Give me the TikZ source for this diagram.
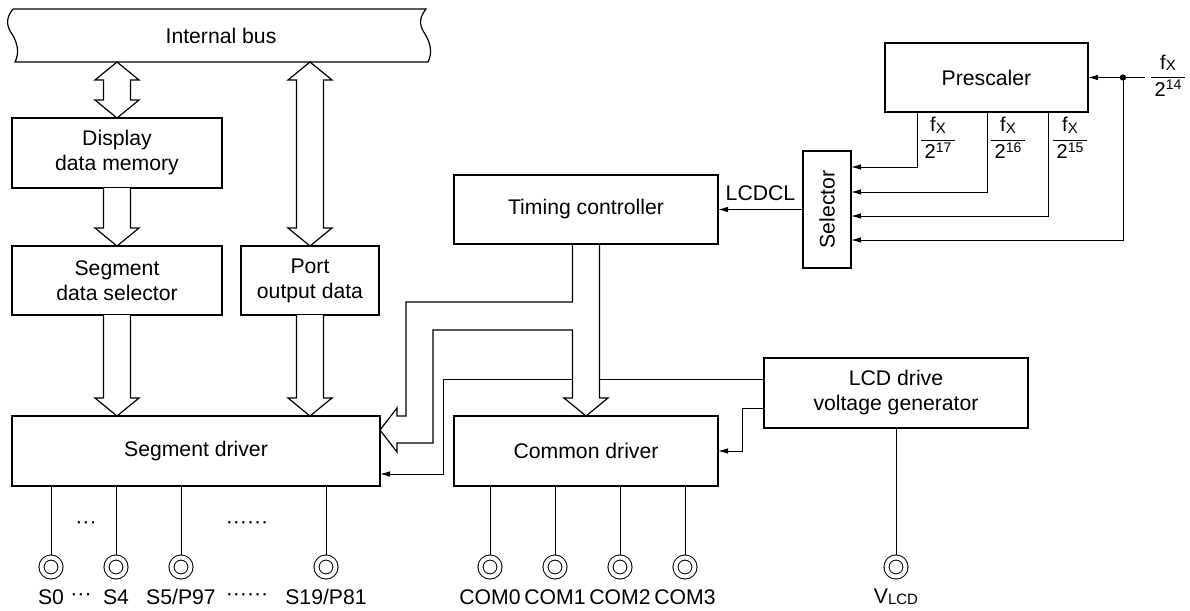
\documentclass[tikz,border=0pt]{standalone}
\usepackage{fontspec}
\setmainfont{Liberation Sans}
\usetikzlibrary{arrows.meta,positioning,calc}

% fraction label f_X / 2^n
\newcommand{\fxover}[1]{{\fontsize{10}{13}\selectfont\begin{tabular}{@{\,}c@{\,}}f\raisebox{-0.6pt}{\fontsize{7.5}{8}\selectfont X}\\\hline 2\raisebox{3.2pt}{\fontsize{7}{8}\selectfont #1}\end{tabular}}}
% hollow bus arrows
\newcommand{\fatdown}[2]{\draw[fat] ($(#1)+(-13.5,0)$) -- ($(#2)+(-13.5,-18)$) -- ($(#2)+(-22,-18)$) -- (#2) -- ($(#2)+(22,-18)$) -- ($(#2)+(13.5,-18)$) -- ($(#1)+(13.5,0)$);}
\newcommand{\fatboth}[2]{\draw[fat] (#1) -- ($(#1)+(22,18)$) -- ($(#1)+(13.5,18)$) -- ($(#2)+(13.5,-18)$) -- ($(#2)+(22,-18)$) -- (#2) -- ($(#2)+(-22,-18)$) -- ($(#2)+(-13.5,-18)$) -- ($(#1)+(-13.5,18)$) -- ($(#1)+(-22,18)$) -- cycle;}

\begin{document}
\begin{tikzpicture}[x=0.5pt, y=-0.5pt,
  font=\fontsize{10.6}{12.5}\selectfont,
  box/.style={rectangle, draw, line width=1pt, outer sep=0pt, align=center},
  wire/.style={line width=0.5pt},
  arr/.style={-{Latex[length=5pt, width=2.8pt]}},
  fat/.style={line width=0.6pt, fill=white},
  term/.style={circle, draw, line width=0.5pt, double, double distance=2pt, minimum size=9.5pt, inner sep=0pt, outer sep=1.25pt}
]
  \useasboundingbox (0,0) rectangle (1190,611);

  % Internal bus
  \node[minimum width=206.5pt, minimum height=26.5pt, inner sep=0pt, outer sep=0pt] (bus) at (221,35.5) {Internal bus};
  \draw[line width=0.6pt] (13,9) -- (426,9) .. controls (417,20) and (421,28) .. (425,34) .. controls (430,42) and (433,52) .. (428,62)
    -- (15,62) .. controls (20,52) and (17,42) .. (12,34) .. controls (8,28) and (4,20) .. (13,9);

  % Blocks
  \node[box, minimum width=105pt, minimum height=35pt] (disp) at (117,153) {Display\\data memory};
  \node[box, minimum width=105pt, minimum height=34.5pt] (segsel) at (117,280.5) {Segment\\data selector};
  \node[box, minimum width=69pt, minimum height=34.5pt] (port) at (310,280.5) {Port\\output data};
  \node[box, minimum width=184pt, minimum height=35pt] (segdrv) at (196,451) {Segment driver};
  \node[box, minimum width=132pt, minimum height=35pt] (comdrv) at (586,451) {Common driver};
  \node[box, minimum width=132pt, minimum height=34.5pt] (timing) at (586,209.5) {Timing controller};
  \node[box, minimum width=24pt, minimum height=58.5pt] (sel) at (827,209.5) {\rotatebox{90}{Selector}};
  \node[box, minimum width=101.5pt, minimum height=34.5pt] (presc) at (986.5,77.5) {Prescaler};
  \node[box, minimum width=132pt, minimum height=35pt] (lcdgen) at (896,393) {LCD drive\\voltage generator};

  % Clock input and prescaler taps
  \coordinate (fin) at (1145,77.5);
  \coordinate (split) at (1123,77.5);
  \draw[wire, arr] (fin) -- (presc.east);
  \fill (split) circle (1.6pt);
  \node (f14) at (1168,77.5) {\fxover{14}};
  \draw[wire, arr] ($(presc.south west)+(32,0)$) |- ($(sel.north east)+(0,16)$);
  \draw[wire, arr] ($(presc.south west)+(102,0)$) |- ($(sel.north east)+(0,41)$);
  \draw[wire, arr] ($(presc.south west)+(163,0)$) |- ($(sel.north east)+(0,65)$);
  \draw[wire, arr] (split) |- ($(sel.north east)+(0,89)$);
  \node (f17) at (938,140) {\fxover{17}};
  \node (f16) at (1008,140) {\fxover{16}};
  \node (f15) at (1070,140) {\fxover{15}};
  \draw[wire, arr] (sel.west) -- (timing.east) node[midway, above=1pt] (lcdcl) {LCDCL};

  % LCD drive voltage lines
  \draw[wire, arr] ($(lcdgen.north west)+(0,21)$) -| ($(segdrv.south east)+(63,-12)$) -- ($(segdrv.south east)+(0,-12)$);
  \draw[wire, arr] ($(lcdgen.north west)+(0,50)$) -| ($(comdrv.east)+(24,0)$) -- (comdrv.east);

  % Bus arrows
  \coordinate (busl) at (bus.south -| disp.north);
  \coordinate (busr) at (bus.south -| port.north);
  \coordinate (segin) at (segsel.south |- segdrv.north);
  \coordinate (portin) at (port.south |- segdrv.north);
  \fatboth{busl}{disp.north}
  \fatboth{busr}{port.north}
  \fatdown{disp.south}{segsel.north}
  \fatdown{segsel.south}{segin}
  \fatdown{port.south}{portin}
  \draw[fat] ($(timing.south)+(13.5,1)$) -- ($(comdrv.north)+(13.5,-18)$) -- ($(comdrv.north)+(22,-18)$) -- (comdrv.north)
    -- ($(comdrv.north)+(-22,-18)$) -- ($(comdrv.north)+(-13.5,-18)$) |- ($(segdrv.north east)+(53,-86)$)
    |- ($(segdrv.north east)+(17,27)$) -- ($(segdrv.north east)+(17,36)$) -- ($(segdrv.north east)+(0,14)$)
    -- ($(segdrv.north east)+(17,-8)$) -- ($(segdrv.north east)+(17,0)$) -- ($(segdrv.north east)+(26,0)$)
    |- ($(timing.south)+(-13.5,58)$) -- ($(timing.south)+(-13.5,1)$);

  % Pins
  \node[term] (s0) at (51,567) {};
  \node[term] (s4) at (116,567) {};
  \node[term] (s5) at (181,567) {};
  \node[term] (s19) at (326,567) {};
  \node[term] (com0) at (490,567) {};
  \node[term] (com1) at (555,567) {};
  \node[term] (com2) at (620,567) {};
  \node[term] (com3) at (685,567) {};
  \node[term] (vlcd) at (896,567) {};
  \draw[wire] (segdrv.south -| s0) -- (s0);
  \draw[wire] (segdrv.south -| s4) -- (s4);
  \draw[wire] (segdrv.south -| s5) -- (s5);
  \draw[wire] (segdrv.south -| s19) -- (s19);
  \draw[wire] (comdrv.south -| com0) -- (com0);
  \draw[wire] (comdrv.south -| com1) -- (com1);
  \draw[wire] (comdrv.south -| com2) -- (com2);
  \draw[wire] (comdrv.south -| com3) -- (com3);
  \draw[wire] (lcdgen.south) -- (vlcd);
  \node (dotsa) at (86,525) {···};
  \node (dotsb) at (247,525) {······};

  % Pin names
  \node (ls0) at (51,597) {S0};
  \node (ldotsa) at (81,597) {···};
  \node (ls4) at (116,597) {S4};
  \node (ls5) at (181,597) {S5/P97};
  \node (ldotsb) at (247,597) {······};
  \node (ls19) at (326,597) {S19/P81};
  \node (lcom0) at (490,597) {COM0};
  \node (lcom1) at (555,597) {COM1};
  \node (lcom2) at (620,597) {COM2};
  \node (lcom3) at (685,597) {COM3};
  \node (lvlcd) at (896,597) {V\raisebox{-0.5pt}{\fontsize{7.5}{8}\selectfont LCD}};
\end{tikzpicture}
\end{document}
